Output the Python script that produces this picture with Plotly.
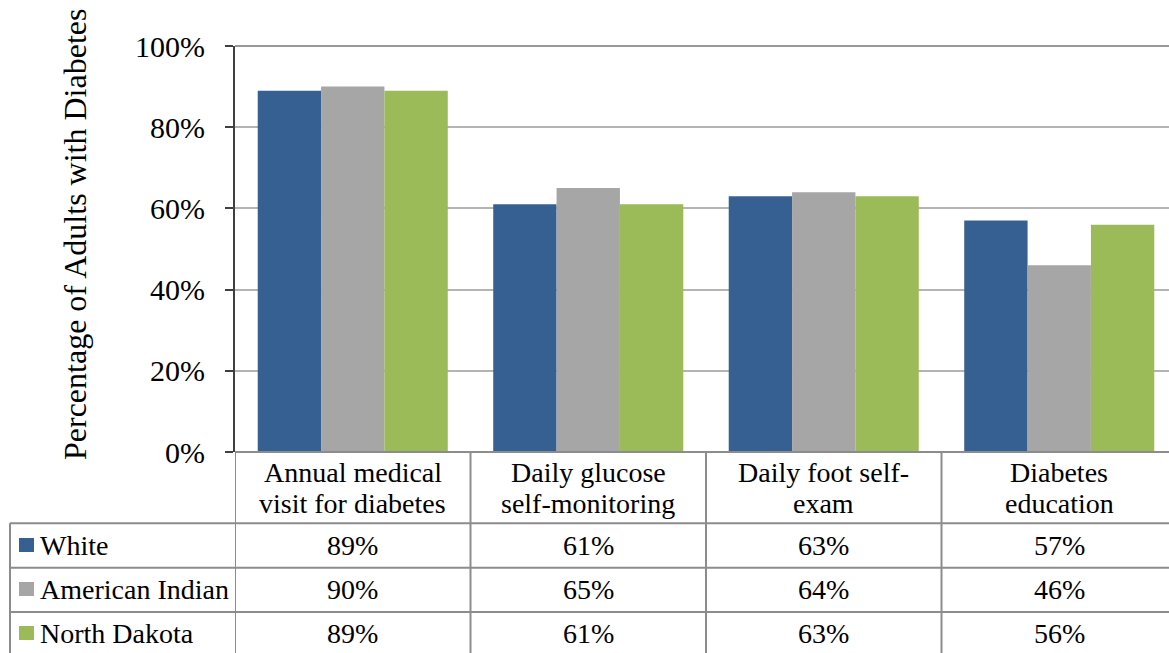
import plotly.graph_objects as go

categories = ["Annual medical<br>visit for diabetes", "Daily glucose<br>self-monitoring",
              "Daily foot self-<br>exam", "Diabetes<br>education"]
series_names = ["White", "American Indian", "North Dakota"]
white = [0.89, 0.61, 0.63, 0.57]
american_indian = [0.90, 0.65, 0.64, 0.46]
north_dakota = [0.89, 0.61, 0.63, 0.56]
series_values = [white, american_indian, north_dakota]
colors = ["#376092", "#A6A6A6", "#9BBB59"]

W, H = 1169, 653
L, R, T, B = 235, 0, 46, 201
PW, PH = W - L - R, H - T - B
FONT = "Liberation Serif, Times New Roman, serif"
LINE = "#8c8c8c"


def px_x(px):
    return (px - L) / PW


def px_y(py):
    return (H - B - py) / PH


def serif(size):
    return dict(size=size, family=FONT, color="black")


xs = list(range(len(categories)))
fig = go.Figure()
for name, vals, col in zip(series_names, series_values, colors):
    fig.add_trace(go.Bar(x=xs, y=vals, name=name, marker=dict(color=col, line=dict(width=0)),
                         showlegend=False))

fig.update_layout(
    width=W, height=H,
    margin=dict(l=L, r=R, t=T, b=B, pad=0),
    paper_bgcolor="white", plot_bgcolor="white",
    barmode="group", bargap=0.193, bargroupgap=0,
    font=serif(28),
)
fig.update_xaxes(range=[-0.5, -0.5 + PW / 235.5], showticklabels=False, showgrid=False,
                 zeroline=False, showline=False, fixedrange=True)
fig.update_yaxes(range=[0, 1], dtick=0.2, tickformat=".0%", showgrid=True, gridcolor="#b4b4b4",
                 gridwidth=2, zeroline=False, showline=True, linecolor="#404040", linewidth=2,
                 ticks="outside", ticklen=8, tickcolor="#404040", tickwidth=2,
                 tickfont=serif(30), ticklabelstandoff=14, fixedrange=True)

shapes = []
# top border of the plot area
shapes.append(dict(type="line", xref="paper", yref="paper", x0=0, x1=1, y0=1, y1=1,
                   line=dict(color="#999999", width=2)))

# data table grid
row_lines = [523.3, 567.7, 612.0]
bottom = H + 5
shapes.append(dict(type="line", xref="paper", yref="paper", x0=0, x1=1, y0=0, y1=0,
                   line=dict(color=LINE, width=2)))
for ry in row_lines:
    shapes.append(dict(type="line", xref="paper", yref="paper", x0=px_x(10), x1=1,
                       y0=px_y(ry), y1=px_y(ry), line=dict(color=LINE, width=2)))
shapes.append(dict(type="line", xref="paper", yref="paper", x0=px_x(10), x1=px_x(10),
                   y0=px_y(row_lines[0]), y1=px_y(bottom), line=dict(color=LINE, width=2)))
for i in range(len(categories)):
    shapes.append(dict(type="line", xref="x", yref="paper", x0=i - 0.5, x1=i - 0.5,
                       y0=0, y1=px_y(bottom), line=dict(color=LINE, width=2)))

annotations = []
# axis title
annotations.append(dict(text="Percentage of Adults with Diabetes", xref="paper", yref="paper",
                        x=px_x(75), y=px_y(235), textangle=-90, showarrow=False,
                        xanchor="center", yanchor="middle", font=serif(32)))

# category header cells
for i, cat in enumerate(categories):
    for j, part in enumerate(cat.split("<br>")):
        annotations.append(dict(text=part, xref="x", yref="paper", x=i,
                                y=px_y(472 + 31 * j), showarrow=False,
                                xanchor="center", yanchor="middle", font=serif(28)))

# value rows with legend keys
row_centers = [545, 589, 633]
for name, vals, col, cy in zip(series_names, series_values, colors, row_centers):
    shapes.append(dict(type="rect", xref="paper", yref="paper", x0=px_x(19), x1=px_x(34),
                       y0=px_y(cy - 7), y1=px_y(cy + 7), fillcolor=col, line=dict(width=0)))
    annotations.append(dict(text=name, xref="paper", yref="paper", x=px_x(38), y=px_y(cy),
                            showarrow=False, xanchor="left", yanchor="middle", font=serif(28)))
    for i, v in enumerate(vals):
        annotations.append(dict(text=f"{round(v * 100)}%", xref="x", yref="paper", x=i,
                                y=px_y(cy), showarrow=False, xanchor="center",
                                yanchor="middle", font=serif(28)))

fig.update_layout(shapes=shapes, annotations=annotations)
fig.write_html("out.html", config={"displayModeBar": False})
